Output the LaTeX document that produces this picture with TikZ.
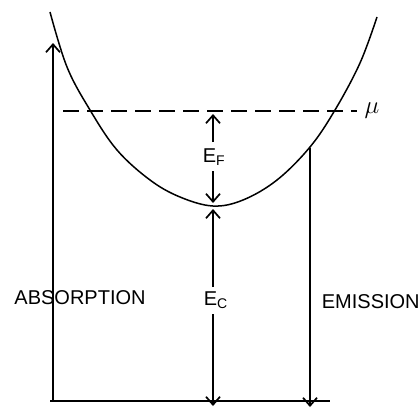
\documentclass[tikz,border=0pt]{standalone}
\usepackage{fontspec}
\setmainfont{Liberation Sans}
\usetikzlibrary{arrows.meta}
\begin{document}
\begin{tikzpicture}[x=1pt,y=-1pt,line width=1.7pt,
  arr/.style={-{Straight Barb[length=8pt,width=14pt,line width=1.7pt]}},
  lbl/.style={font=\fontsize{20}{20}\selectfont,inner sep=0pt},
  dashline/.style={dash pattern=on 16pt off 8pt}]
\useasboundingbox (0,0) rectangle (419,412);
% named points
\coordinate (bl) at (50,401);
\coordinate (br) at (330,401);
\coordinate (a0) at (53,401);
\coordinate (a1) at (53,283);
\coordinate (a2) at (53,312);
\coordinate (a3) at (53,43);
\coordinate (d0) at (63,111);
\coordinate (d1) at (357,111);
\coordinate (f0) at (213,142);
\coordinate (f1) at (213,114);
\coordinate (f2) at (213,171);
\coordinate (f3) at (213,203);
\coordinate (c0) at (213,287);
\coordinate (c1) at (213,209);
\coordinate (c2) at (213,314);
\coordinate (c3) at (213,406);
\coordinate (e0) at (310,148);
\coordinate (e1) at (310,407);
% parabola
\draw[line width=1.5pt] plot[smooth,tension=0.6] coordinates {(50,12) (67,67) (90,110) (117,150) (150,180) (180,197) (213,206) (243,200) (277,180) (310,147) (335,110) (360,63) (377,17)};
% baseline
\draw (bl) -- (br);
% dashed chemical potential
\draw[dashline] (d0) -- (d1);
\node[font=\fontsize{24}{24}\selectfont,inner sep=0pt] (mu) at (372,111) {$\mu$};
% absorption
\draw (a0) -- (a1);
\draw[arr] (a2) -- (a3);
\node[lbl] (abs) at (80,298) {ABSORPTION};
% E_F
\draw[arr] (f0) -- (f1);
\draw[arr] (f2) -- (f3);
\node[lbl,anchor=west] (ef) at (202,157) {E\raisebox{-3pt}{\fontsize{14}{14}\selectfont F}};
% E_C
\draw[arr] (c0) -- (c1);
\draw[arr] (c2) -- (c3);
\node[lbl,anchor=west] (ec) at (203,300) {E\raisebox{-3pt}{\fontsize{14}{14}\selectfont C}};
% emission
\draw[arr] (e0) -- (e1);
\node[lbl,anchor=west] (em) at (321,302) {EMISSION};
\end{tikzpicture}
\end{document}
